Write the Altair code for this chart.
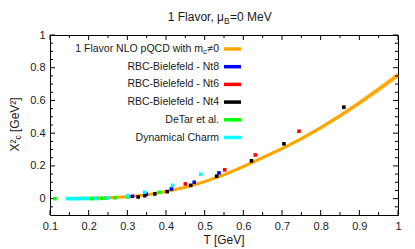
import altair as alt
import pandas as pd

# ---------------- data ----------------
curve_T = [0.15, 0.20, 0.25, 0.30, 0.35, 0.40, 0.45, 0.50, 0.55, 0.60,
           0.65, 0.70, 0.75, 0.80, 0.85, 0.90, 0.95, 1.00]
curve_y = [0.0005, 0.002, 0.005, 0.011, 0.023, 0.043, 0.070, 0.104, 0.145, 0.196,
           0.250, 0.305, 0.366, 0.433, 0.506, 0.585, 0.668, 0.755]
curve_lo = [0.0, 0.001, 0.003, 0.008, 0.019, 0.038, 0.064, 0.097, 0.137, 0.187,
            0.240, 0.294, 0.354, 0.420, 0.491, 0.569, 0.650, 0.735]
curve_hi = [0.001, 0.003, 0.007, 0.014, 0.027, 0.048, 0.076, 0.111, 0.153, 0.205,
            0.260, 0.316, 0.378, 0.446, 0.521, 0.601, 0.686, 0.775]

nt8_T = [0.313, 0.349, 0.414, 0.473, 0.537]
nt8_y = [0.014, 0.027, 0.059, 0.100, 0.157]
nt6_T = [0.450, 0.552, 0.631, 0.744]
nt6_y = [0.090, 0.176, 0.267, 0.412]
nt4_T = [0.328, 0.345, 0.371, 0.403, 0.464, 0.531, 0.621, 0.705, 0.860]
nt4_y = [0.010, 0.018, 0.029, 0.043, 0.081, 0.137, 0.231, 0.335, 0.559]
detar_T = [0.113, 0.208, 0.221, 0.234, 0.245, 0.268, 0.302, 0.383]
detar_y = [0.000, 0.000, 0.001, 0.002, 0.003, 0.005, 0.010, 0.039]
dyn_T = [0.145, 0.152, 0.160, 0.168, 0.176, 0.184, 0.192, 0.199, 0.218, 0.250,
         0.300, 0.345, 0.417, 0.490]
dyn_y = [0.000, 0.000, 0.000, 0.000, 0.000, 0.001, 0.001, 0.001, 0.002, 0.005,
         0.018, 0.039, 0.081, 0.149]

series_names = ["RBC-Bielefeld - Nt8", "RBC-Bielefeld - Nt6", "RBC-Bielefeld - Nt4",
                "DeTar et al.", "Dynamical Charm"]
series_colors = ["#0000ff", "#ff0000", "#000000", "#00ff00", "#00ffff"]
curve_name = "1 Flavor NLO pQCD with m"
curve_sub = "c"
curve_tail = "≠0"
curve_color = "#ffa500"

x_major = [0.1, 0.2, 0.3, 0.4, 0.5, 0.6, 0.7, 0.8, 0.9, 1.0]
x_minor = [0.15, 0.25, 0.35, 0.45, 0.55, 0.65, 0.75, 0.85, 0.95]
y_major = [0.0, 0.2, 0.4, 0.6, 0.8, 1.0]
y_minor = [-0.05, 0.05, 0.1, 0.15, 0.25, 0.3, 0.35, 0.45, 0.5, 0.55,
           0.65, 0.7, 0.75, 0.85, 0.9, 0.95]

title_main, title_sub, title_tail = "1 Flavor, μ", "B", "=0 MeV"
ytitle_main, ytitle_sub, ytitle_tail = "X²", "c", "[GeV²]"
xtitle = "T [GeV]"

# ---------------- layout / style ----------------
W, H = 348, 180
FONT = "Liberation Sans"
TXT = "#1a1a1a"

xscale = alt.Scale(domain=[0.1, 1.0], nice=False, zero=False)
yscale = alt.Scale(domain=[-0.1, 1.0], nice=False, zero=False)

X = alt.X("T:Q", scale=xscale,
          axis=alt.Axis(values=x_major, format="~g", title=None, ticks=False, tickSize=0,
                        domain=False, grid=False, labelFont=FONT, labelFontSize=11,
                        labelColor=TXT, labelPadding=5, labelFlush=False, labelOverlap=False))
Y = alt.Y("chi:Q", scale=yscale,
          axis=alt.Axis(values=y_major, format="~g", title=None, ticks=False, tickSize=0,
                        domain=False, grid=False, labelFont=FONT, labelFontSize=11,
                        labelColor=TXT, labelPadding=5, labelFlush=False, labelOverlap=False))

one = pd.DataFrame({"k": [0]})

band = alt.Chart(pd.DataFrame({"T": curve_T, "chi": curve_lo, "chi_hi": curve_hi})).mark_area(
    color=curve_color, opacity=0.45).encode(x=X, y=Y, y2="chi_hi:Q")
line = alt.Chart(pd.DataFrame({"T": curve_T, "chi": curve_y})).mark_line(
    color=curve_color, strokeWidth=3).encode(x=X, y=Y)

rows = []
for name, Ts, ys in zip(series_names, [nt8_T, nt6_T, nt4_T, detar_T, dyn_T],
                        [nt8_y, nt6_y, nt4_y, detar_y, dyn_y]):
    for t, v in zip(Ts, ys):
        rows.append({"T": t, "chi": v, "series": name})
pts_df = pd.DataFrame(rows)
points = alt.Chart(pts_df).mark_square(size=13, opacity=1).encode(
    x=X, y=Y,
    color=alt.Color("series:N", scale=alt.Scale(domain=series_names, range=series_colors),
                    legend=None))

# inward ticks on all four sides
def xticks(vals, ln):
    d = pd.DataFrame({"T": vals})
    b = alt.Chart(d).mark_rule(color="black", strokeWidth=1).encode(
        x=X, y=alt.value(H), y2=alt.value(H - ln))
    t = alt.Chart(d).mark_rule(color="black", strokeWidth=1).encode(
        x=X, y=alt.value(0), y2=alt.value(ln))
    return [b, t]

def yticks(vals, ln):
    d = pd.DataFrame({"chi": vals})
    l = alt.Chart(d).mark_rule(color="black", strokeWidth=1).encode(
        y=Y, x=alt.value(0), x2=alt.value(ln))
    r = alt.Chart(d).mark_rule(color="black", strokeWidth=1).encode(
        y=Y, x=alt.value(W), x2=alt.value(W - ln))
    return [l, r]

ticks = xticks(x_major, 5) + xticks(x_minor, 3) + yticks(y_major, 5) + yticks(y_minor, 3)

# legend (manual, gnuplot style)
LX_TEXT, LX1, LX2, LY0, LDY = 169, 174, 191, 14, 17.7
legend_layers = []
labels_all = [None] + series_names
colors_all = [curve_color] + series_colors
for i, (lab, col) in enumerate(zip(labels_all, colors_all)):
    yy = LY0 + LDY * i
    if lab is None:
        legend_layers.append(alt.Chart(one).mark_text(
            text=curve_tail, align="right", baseline="middle", font=FONT, fontSize=10.5,
            color=TXT).encode(x=alt.value(LX_TEXT), y=alt.value(yy)))
        legend_layers.append(alt.Chart(one).mark_text(
            text=curve_sub, align="right", baseline="middle", font=FONT, fontSize=8,
            color=TXT).encode(x=alt.value(LX_TEXT - 12), y=alt.value(yy + 3)))
        legend_layers.append(alt.Chart(one).mark_text(
            text=curve_name, align="right", baseline="middle", font=FONT, fontSize=10.5,
            color=TXT).encode(x=alt.value(LX_TEXT - 16), y=alt.value(yy)))
    else:
        legend_layers.append(alt.Chart(one).mark_text(
            text=lab, align="right", baseline="middle", font=FONT, fontSize=10.5,
            color=TXT).encode(x=alt.value(LX_TEXT), y=alt.value(yy)))
    legend_layers.append(alt.Chart(one).mark_rule(color=col, strokeWidth=3.5).encode(
        x=alt.value(LX1), x2=alt.value(LX2), y=alt.value(yy)))

# chart title with subscript
TX, TY = 174, -13.6
title_layers = [
    alt.Chart(one).mark_text(text=title_main, align="right", baseline="alphabetic",
                             font=FONT, fontSize=12, color=TXT).encode(
        x=alt.value(TX), y=alt.value(TY)),
    alt.Chart(one).mark_text(text=title_sub, align="left", baseline="alphabetic",
                             font=FONT, fontSize=8.5, color=TXT).encode(
        x=alt.value(TX), y=alt.value(TY + 2.5)),
    alt.Chart(one).mark_text(text=title_tail, align="left", baseline="alphabetic",
                             font=FONT, fontSize=12, color=TXT).encode(
        x=alt.value(TX + 6), y=alt.value(TY)),
]

# x title
xtitle_layer = alt.Chart(one).mark_text(
    text=xtitle, align="center", baseline="alphabetic", font=FONT, fontSize=12,
    color=TXT).encode(x=alt.value(W / 2), y=alt.value(H + 29))

# rotated y title with sub/superscripts
YX, YY = -31.5, 116.5
ytitle_layers = [
    alt.Chart(one).mark_text(text=ytitle_main, align="left", baseline="alphabetic",
                             angle=270, font=FONT, fontSize=12, color=TXT).encode(
        x=alt.value(YX), y=alt.value(YY)),
    alt.Chart(one).mark_text(text=ytitle_sub, align="left", baseline="alphabetic",
                             angle=270, font=FONT, fontSize=8.5, color=TXT).encode(
        x=alt.value(YX + 2.8), y=alt.value(YY - 12)),
    alt.Chart(one).mark_text(text=ytitle_tail, align="left", baseline="alphabetic",
                             angle=270, font=FONT, fontSize=12, color=TXT).encode(
        x=alt.value(YX), y=alt.value(YY - 19.5)),
]

chart = alt.layer(band, line, *ticks, points, *legend_layers, *title_layers,
                  xtitle_layer, *ytitle_layers).properties(
    width=W, height=H,
    autosize=alt.AutoSizeParams(type="none"),
    padding={"left": 42, "top": 27, "right": 9, "bottom": 33},
    background="white",
).configure_view(stroke="black", strokeWidth=1)

chart.save("out.html", embed_options={"renderer": "svg", "actions": False})
